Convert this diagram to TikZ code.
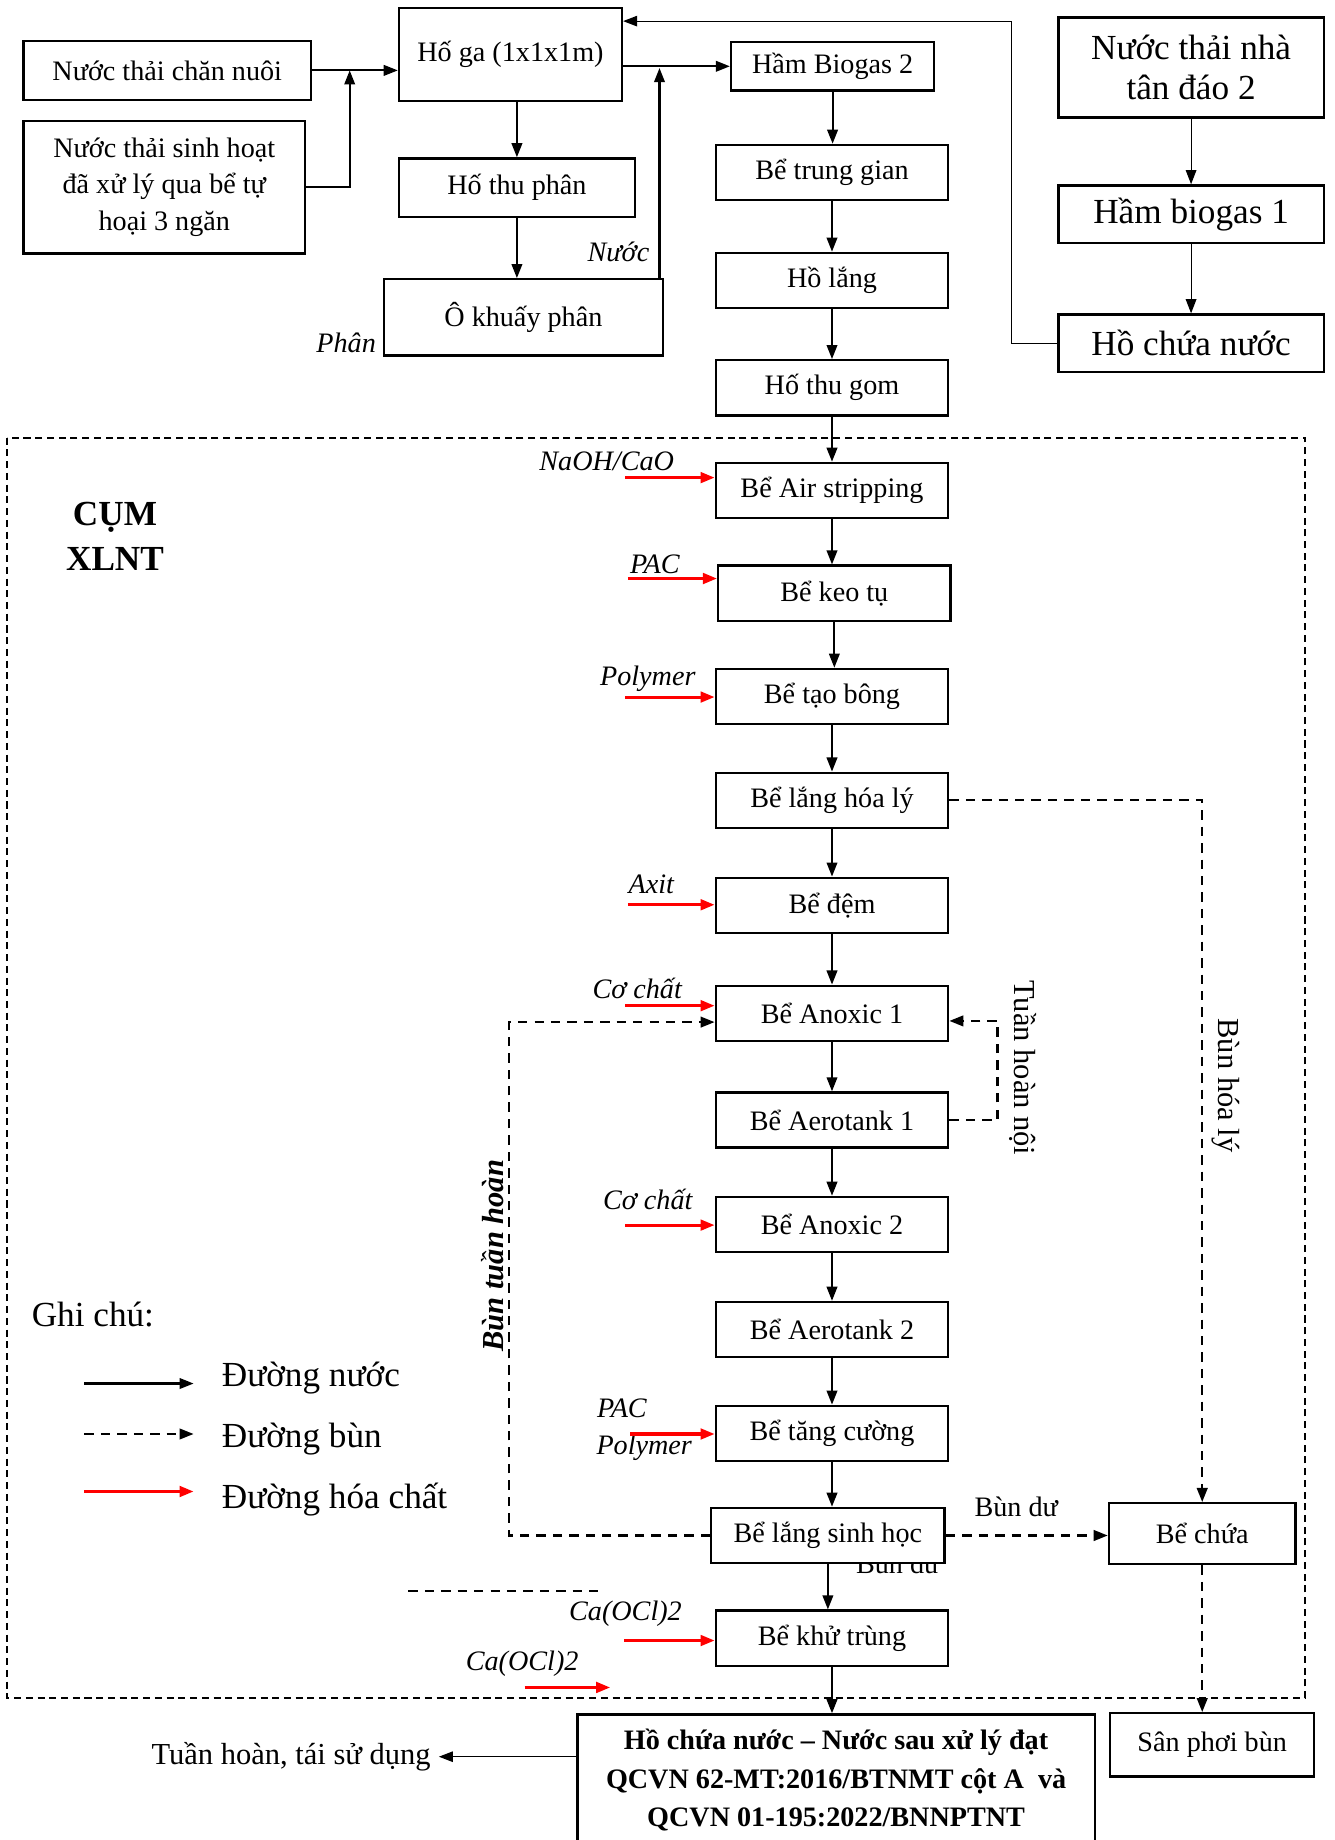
\documentclass[tikz,border=0pt]{standalone}
\usepackage{fontspec}
\setmainfont{Liberation Serif}
\usetikzlibrary{arrows.meta}

\begin{document}
\begin{tikzpicture}[x=0.5pt, y=-0.5pt,
  box/.style={draw, rectangle, line width=1pt, fill=white, align=center, inner sep=2pt,
    minimum width=99pt, minimum height=23.5pt, font=\fontsize{12}{15.5}\selectfont},
  bigbox/.style={box, minimum width=113pt, minimum height=24.5pt, font=\fontsize{15}{17}\selectfont},
  lbl/.style={font=\fontsize{12}{14}\selectfont\itshape},
  note/.style={font=\fontsize{15}{17}\selectfont, anchor=west},
  arr/.style={-{Triangle[length=6pt,width=4.5pt]}, line width=0.9pt},
  thinarr/.style={-{Triangle[length=6pt,width=4.5pt]}, line width=0.5pt},
  chem/.style={-{Triangle[length=6pt,width=4.5pt]}, line width=1.3pt, red},
  mud/.style={-{Triangle[length=6pt,width=4.5pt]}, line width=1pt, dash pattern=on 4pt off 3pt},
  frame/.style={line width=0.7pt, dash pattern=on 3pt off 2pt}]
\useasboundingbox (0,0) rectangle (1137,1568);

% Define nodes
\node[box, minimum width=122.5pt, minimum height=25pt] (nuoi) at (142.5,60) {Nước thải chăn nuôi};
\node[box, minimum width=120pt, minimum height=56.5pt] (sinhhoat) at (140,159.5) {Nước thải sinh hoạt\\đã xử lý qua bể tự\\hoại 3 ngăn};
\node[box, minimum width=95pt, minimum height=39.5pt] (hoga) at (435,46.5) {Hố ga (1x1x1m)};
\node[box, minimum width=100.5pt, minimum height=25pt] (thuphan) at (440.5,160) {Hố thu phân};
\node[box, minimum width=119pt, minimum height=32.5pt] (khuay) at (446,270.5) {Ô khuấy phân};
\node[box, minimum width=86.5pt, minimum height=20.5pt] (biogas2) at (709.5,56.5) {Hầm Biogas 2};
\node[box] (trunggian) at (709,147) {Bể trung gian};
\node[box] (holang) at (709,239) {Hồ lắng};
\node[box] (thugom) at (709,330.5) {Hố thu gom};
\node[bigbox, minimum height=42.5pt] (tandao) at (1015,57.5) {Nước thải nhà\\tân đáo 2};
\node[bigbox] (biogas1) at (1015,182.5) {Hầm biogas 1};
\node[bigbox] (hochua) at (1015,292.5) {Hồ chứa nước};

\node[box] (air) at (709,418) {Bể Air stripping};
\node[box] (keotu) at (711,505.5) {Bể keo tụ};
\node[box] (taobong) at (709,593.5) {Bể tạo bông};
\node[box] (langhl) at (709,682) {Bể lắng hóa lý};
\node[box] (dem) at (709,771.5) {Bể đệm};
\node[box] (anox1) at (709,863.5) {Bể Anoxic 1};
\node[box] (aero1) at (709,954.5) {Bể Aerotank 1};
\node[box] (anox2) at (709,1043.5) {Bể Anoxic 2};
\node[box] (aero2) at (709,1133) {Bể Aerotank 2};
\node[box] (tangcuong) at (709,1221.5) {Bể tăng cường};
% half hidden under the box below
\node[font=\fontsize{12}{14}\selectfont] (bundu2) at (765,1333) {Bùn dư};
\node[box, minimum width=99.5pt] (langsh) at (705.5,1308.5) {Bể lắng sinh học};
\node[box] (khutrung) at (709,1396) {Bể khử trùng};
\node[box, minimum width=79.5pt, minimum height=26pt] (bechua) at (1024.5,1307) {Bể chứa};
\node[box, minimum width=87pt, minimum height=27pt] (sanphoi) at (1033,1487) {Sân phơi bùn};
\node[box, anchor=north, minimum width=220.5pt, minimum height=56pt, font=\fontsize{12}{16.5}\selectfont\bfseries] (hochuaout) at (712.5,1460) {Hồ chứa nước – Nước sau xử lý đạt\\QCVN 62-MT:2016/BTNMT cột A\ \ và\\QCVN 01-195:2022/BNNPTNT};
\node[anchor=east, font=\fontsize{13}{15}\selectfont] (taisd) at (374,1497) {Tuần hoàn, tái sử dụng};

% Chemical labels
\node[lbl] (nuoc) at (527,215) {Nước};
\node[lbl] (phan) at (295,292) {Phân};
\node[lbl] (tnaoh) at (517,393) {NaOH/CaO};
\node[lbl] (tpac1) at (558,481) {PAC};
\node[lbl] (tpoly1) at (552,578) {Polymer};
\node[lbl] (taxit) at (555,754) {Axit};
\node[lbl] (tco1) at (543,842) {Cơ chất};
\node[lbl] (tco2) at (552,1022) {Cơ chất};
\node[lbl] (tpac2) at (530,1200) {PAC};
\node[lbl] (tpoly2) at (549,1234) {Polymer};
\node[lbl] (tca1) at (533,1375) {Ca(OCl)2};
\node[lbl] (tca2) at (445,1418) {Ca(OCl)2};

% Bends and free ends
\coordinate (j1) at (298,60);
\coordinate (j2) at (562,58);
\coordinate (c1) at (862,18);
\coordinate (tn) at (850,870);
\coordinate (bt) at (434,871);
\coordinate (naoh) at (533,407);
\coordinate (pac1) at (535,493);
\coordinate (poly1) at (533,594);
\coordinate (axit) at (535,771);
\coordinate (co1) at (533,857);
\coordinate (co2) at (533,1044);
\coordinate (pac2) at (537,1222);
\coordinate (ca1) at (532,1398);
\coordinate (ca2a) at (447,1438);
\coordinate (ca2b) at (520,1438);

% Draw arrows
\draw[arr] (nuoi.east) -- (nuoi.east -| hoga.west);
\draw[arr] (sinhhoat.east) -| (j1);
\draw[arr] (hoga.east |- biogas2.west) -- (biogas2.west);
\draw[arr] (khuay.north -| j2) -- (j2);
\draw[arr] (thuphan.north |- hoga.south) -- (thuphan.north);
\draw[arr] (thuphan.south) -- (thuphan.south |- khuay.north);
\draw[arr] (biogas2.south) -- (biogas2.south |- trunggian.north);
\draw[arr] (trunggian.south) -- (trunggian.south |- holang.north);
\draw[arr] (holang.south) -- (holang.south |- thugom.north);
\draw[arr] (thugom.south) -- (thugom.south |- air.north);
\draw[arr] (air.south) -- (air.south |- keotu.north);
\draw[arr] (keotu.south) -- (keotu.south |- taobong.north);
\draw[arr] (taobong.south) -- (taobong.south |- langhl.north);
\draw[arr] (langhl.south) -- (langhl.south |- dem.north);
\draw[arr] (dem.south) -- (dem.south |- anox1.north);
\draw[arr] (anox1.south) -- (anox1.south |- aero1.north);
\draw[arr] (aero1.south) -- (aero1.south |- anox2.north);
\draw[arr] (anox2.south) -- (anox2.south |- aero2.north);
\draw[arr] (aero2.south) -- (aero2.south |- tangcuong.north);
\draw[arr] (tangcuong.south) -- (tangcuong.south |- langsh.north);
\draw[arr] (langsh.south) -- (langsh.south |- khutrung.north);
\draw[arr] (khutrung.south) -- (khutrung.south |- hochuaout.north);
\draw[thinarr] (hochuaout.west |- taisd) -- (taisd.east);

\draw[thinarr] (tandao) -- (biogas1);
\draw[thinarr] (biogas1) -- (hochua);
\draw[thinarr] (hochua.west) -| (c1) -- (c1 -| hoga.east);

\draw[chem] (naoh) -- (naoh -| air.west);
\draw[chem] (pac1) -- (pac1 -| keotu.west);
\draw[chem] (poly1) -- (poly1 -| taobong.west);
\draw[chem] (axit) -- (axit -| dem.west);
\draw[chem] (co1) -- (co1 -| anox1.west);
\draw[chem] (co2) -- (co2 -| anox2.west);
\draw[chem] (pac2) -- (pac2 -| tangcuong.west);
\draw[chem] (ca1) -- (ca1 -| khutrung.west);
\draw[chem] (ca2a) -- (ca2b);

\draw[mud] (langhl.east) -| (bechua.north);
\draw[mud] (aero1.east) -| (tn) -- (tn -| anox1.east);
\draw[mud] (langsh.west) -| (bt) -- (bt -| anox1.west);
\draw[mud] (langsh.east) -- (langsh.east -| bechua.west);
\draw[mud] (bechua.south) -- (bechua.south |- sanphoi.north);
\draw[mud, -] (348,1356) -- (515,1356);

% Treatment cluster frame
\draw[frame] (6,373) rectangle (1112,1447);

% Add annotations
\node[font=\fontsize{15}{19.5}\selectfont\bfseries, align=center] (cum) at (98,457) {CỤM\\XLNT};
\node[rotate=-90, font=\fontsize{13}{15}\selectfont] (tuanhoan) at (872,910) {Tuần hoàn nội};
\node[rotate=-90, font=\fontsize{13}{15}\selectfont] (bunhoaly) at (1045,925) {Bùn hóa lý};
\node[rotate=90, font=\fontsize{13}{15}\selectfont\bfseries\itshape] (buntuanhoan) at (420,1070) {Bùn tuần hoàn};
\node[font=\fontsize{12}{14}\selectfont] (bundu) at (866,1284) {Bùn dư};

% Legend
\node[note] (ghichu) at (20,1120) {Ghi chú:};
\coordinate (l1a) at (72,1179);
\coordinate (l1b) at (165,1179);
\coordinate (l2a) at (72,1222);
\coordinate (l2b) at (165,1222);
\coordinate (l3a) at (72,1271);
\coordinate (l3b) at (165,1271);
\draw[arr] (l1a) -- (l1b);
\draw[mud] (l2a) -- (l2b);
\draw[chem] (l3a) -- (l3b);
\node[note] (lnuoc) at (182,1174) {Đường nước};
\node[note] (lbun) at (182,1226) {Đường bùn};
\node[note] (lhoa) at (182,1278) {Đường hóa chất};

\end{tikzpicture}
\end{document}
